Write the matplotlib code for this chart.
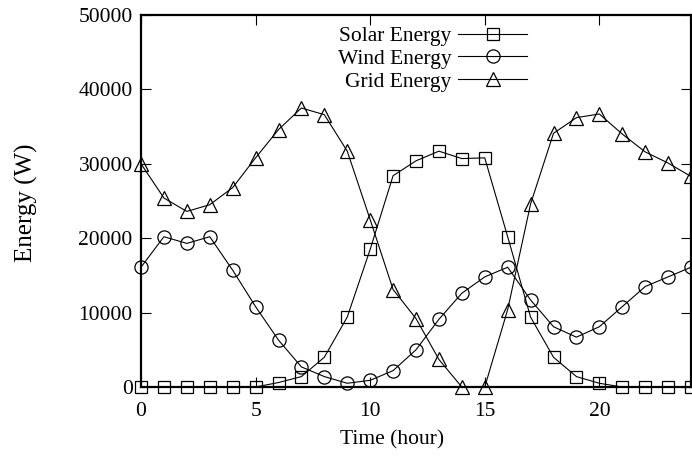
import numpy as np
import matplotlib.pyplot as plt

plt.rcParams['font.family'] = ['Liberation Serif', 'DejaVu Serif']
plt.rcParams['font.size'] = 15.5

hours = list(range(25))
solar = [0, 0, 0, 0, 0, 0, 600, 1400, 4000, 9400, 18500, 28400, 30400, 31700,
         30700, 30800, 20200, 9400, 4000, 1400, 500, 0, 0, 0, 0]
wind = [16100, 20200, 19300, 20200, 15700, 10800, 6300, 2700, 1400, 500, 900,
        2200, 5000, 9100, 12600, 14800, 16100, 11700, 8100, 6700, 8100, 10800,
        13500, 14800, 16100]
grid = [30000, 25400, 23600, 24500, 26800, 30800, 34600, 37500, 36600, 31700,
        22500, 13100, 9200, 3700, 0, 0, 10400, 24600, 34100, 36200, 36700,
        34000, 31600, 30100, 28300]

fig = plt.figure(figsize=(6.92, 4.57), dpi=100)
ax = fig.add_axes([141/692, 1 - 387/457, 550/692, 372/457])

style = dict(color='black', lw=0.8, mfc='none', mec='black', mew=0.9, clip_on=False)
ax.plot(hours, solar, marker='s', ms=9, label='Solar Energy', **style)
ax.plot(hours, wind, marker='o', ms=9.5, label='Wind Energy', **style)
ax.plot(hours, grid, marker='^', ms=10, label='Grid Energy', **style)

ax.set_xlim(0, 24)
ax.set_ylim(0, 50000)
ax.set_xticks([0, 5, 10, 15, 20])
ax.set_yticks(np.arange(0, 50001, 10000))
ax.tick_params(direction='in', length=7, width=0.8, top=True, right=True)
ax.tick_params(axis='x', pad=11)
ax.tick_params(axis='y', pad=6)
for sp in ax.spines.values():
    sp.set_linewidth(1.6)

ax.set_xlabel('Time (hour)')
ax.xaxis.set_label_coords(0.456, -0.115)
ax.set_ylabel('Energy (W)', fontsize=18)
ax.yaxis.set_label_coords(-0.188, 0.495)

ax.legend(loc='upper right', bbox_to_anchor=(527/692, 1 - 26/457),
          bbox_transform=fig.transFigure, frameon=False, markerfirst=False,
          handlelength=3.2, handletextpad=0.3, labelspacing=0.13,
          borderpad=0, borderaxespad=0)

fig.savefig('out.png', dpi=100)
